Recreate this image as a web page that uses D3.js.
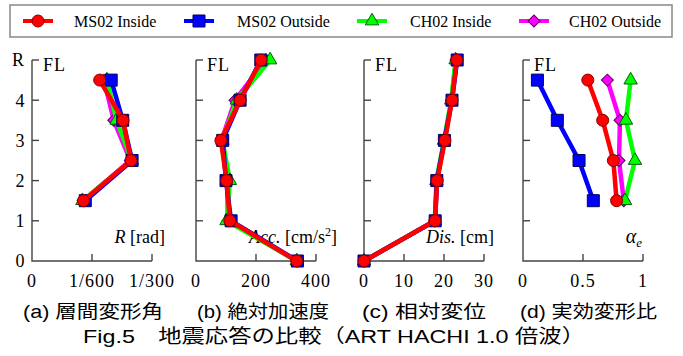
<!DOCTYPE html>
<html>
<head>
<meta charset="utf-8">
<script src="https://cdn.jsdelivr.net/npm/d3@7"></script>
<style>
  body { margin: 0; background: #fff; }
  text { font-family: "Liberation Serif", "Times New Roman", serif; }
  .cap { font-family: "Liberation Sans", "Noto Sans CJK JP", sans-serif; }
</style>
</head>
<body>
<svg id="chart" width="683" height="356"></svg>
<script>
// floor levels
const storyFloors = [1.5, 2.5, 3.5, 4.5];
const floorLevels = [0, 1, 2, 3, 4, 5];
const seriesNames = ["MS02 Inside", "MS02 Outside", "CH02 Inside", "CH02 Outside"];

// (a) inter-story drift angle [rad]
const driftMS02In  = [0.00143, 0.00275, 0.00253, 0.00188];
const driftMS02Out = [0.00148, 0.00278, 0.00252, 0.00220];
const driftCH02In  = [0.00140, 0.00277, 0.00235, 0.00208];
const driftCH02Out = [0.00142, 0.00273, 0.00227, 0.00200];

// (b) absolute acceleration [cm/s2]
const accMS02In  = [336, 113, 102, 83, 147, 217];
const accMS02Out = [338, 117, 100, 89, 147, 216];
const accCH02In  = [336, 102, 113, 88, 136, 247];
const accCH02Out = [337, 107, 103, 85, 130, 233];

// (c) relative displacement [cm]
const disMS02In  = [0, 17.75, 18.3, 20.25, 22.0, 23.2];
const disMS02Out = [0, 17.8, 18.2, 20.1, 22.0, 23.3];
const disCH02In  = [0, 17.7, 18.1, 20.0, 21.8, 22.9];
const disCH02Out = [0, 17.7, 18.2, 20.1, 21.9, 23.0];

// (d) effective deformation ratio
const alphaMS02In  = [0.78, 0.753, 0.664, 0.54];
const alphaMS02Out = [0.586, 0.467, 0.286, 0.12];
const alphaCH02In  = [0.85, 0.933, 0.858, 0.897];
const alphaCH02Out = [0.84, 0.80, 0.808, 0.703];

const tickLabelsA = ["0", "1/600", "1/300"];

const svg = d3.select("#chart");

const styles = [
  { color: "#ff0000", edge: "#800000", shape: d3.symbolCircle, size: 113, rot: 0 },
  { color: "#0000ff", edge: "#000060", shape: d3.symbolSquare, size: 144, rot: 0 },
  { color: "#00ff00", edge: "#006000", shape: d3.symbolTriangle, size: 78, rot: 0 },
  { color: "#ff00ff", edge: "#600060", shape: d3.symbolSquare, size: 72, rot: 45 }
];

const y = d3.scaleLinear().domain([0, 5]).range([261, 60]);

const panels = [
  { x0: 32,  domain: [0, 1 / 300], ticks: [0, 1 / 600, 1 / 300], fmt: (d, i) => tickLabelsA[i],
    levels: storyFloors, data: [driftMS02In, driftMS02Out, driftCH02In, driftCH02Out],
    label: [["R", true], [" [rad]", false]], labelEnd: 165 },
  { x0: 196, domain: [0, 400], ticks: [0, 200, 400], fmt: d => d,
    levels: floorLevels, data: [accMS02In, accMS02Out, accCH02In, accCH02Out],
    label: [["Acc.", true], [" [cm/s", false], ["2", false, true], ["]", false]], labelEnd: 337 },
  { x0: 364, domain: [0, 30], ticks: [0, 10, 20, 30], fmt: d => d,
    levels: floorLevels, data: [disMS02In, disMS02Out, disCH02In, disCH02Out],
    label: [["Dis.", true], [" [cm]", false]], labelEnd: 494 },
  { x0: 523, domain: [0, 1], ticks: [0, 0.5, 1], fmt: d => d,
    levels: storyFloors, data: [alphaMS02In, alphaMS02Out, alphaCH02In, alphaCH02Out],
    label: null, labelEnd: 642 }
];

const axisColor = "#444";

panels.forEach((p, pi) => {
  const x = d3.scaleLinear().domain(p.domain).range([p.x0, p.x0 + 120]);
  const g = svg.append("g");

  // axes lines
  g.append("path")
    .attr("d", `M${p.x0},${y(5)}V${y(0)}H${p.x0 + 120}`)
    .attr("fill", "none").attr("stroke", axisColor).attr("stroke-width", 1.4);

  // y ticks (inward)
  g.selectAll(".yt").data([1, 2, 3, 4, 5]).enter().append("line")
    .attr("x1", p.x0).attr("x2", p.x0 + 7)
    .attr("y1", d => y(d)).attr("y2", d => y(d))
    .attr("stroke", axisColor).attr("stroke-width", 1.4);

  // x ticks (inward)
  g.selectAll(".xt").data(p.ticks.slice(1)).enter().append("line")
    .attr("x1", d => x(d)).attr("x2", d => x(d))
    .attr("y1", y(0)).attr("y2", y(0) - 7)
    .attr("stroke", axisColor).attr("stroke-width", 1.4);

  g.selectAll(".xl").data(p.ticks).enter().append("text")
    .attr("x", d => x(d)).attr("y", 287)
    .attr("text-anchor", "middle")
    .style("font-size", "18px").style("letter-spacing", "1px")
    .text((d, i) => p.fmt(d, i));

  g.append("text").attr("x", p.x0 + 11).attr("y", 71)
    .style("font-size", "18px").style("letter-spacing", "1px").text("FL");

  if (pi === 0) {
    g.selectAll(".yl").data([0, 1, 2, 3, 4]).enter().append("text")
      .attr("x", 20).attr("y", d => y(d)).attr("dy", "0.35em")
      .attr("text-anchor", "middle").style("font-size", "18px")
      .text(d => d);
    g.append("text").attr("x", 18).attr("y", y(5)).attr("dy", "0.35em")
      .attr("text-anchor", "middle").style("font-size", "18px").text("R");
  }

  // axis title
  if (p.label) {
    const t = g.append("text").attr("x", p.labelEnd).attr("y", 243)
      .attr("text-anchor", "end").style("font-size", "18px");
    p.label.forEach(([s, it, sup]) => {
      const ts = t.append("tspan").text(s).style("font-style", it ? "italic" : "normal");
      if (sup) ts.attr("dy", "-7").style("font-size", "12px");
      else if (s === "]" ) ts.attr("dy", "7");
    });
  } else {
    const t = g.append("text").attr("x", p.labelEnd).attr("y", 243)
      .attr("text-anchor", "end").style("font-size", "20px").style("font-style", "italic");
    t.append("tspan").text("α");
    t.append("tspan").text("e").attr("dy", 4).style("font-size", "13px");
  }

  // series (draw last legend entry first)
  const line = d3.line().x(d => x(d[0])).y(d => y(d[1]));
  for (let s = 3; s >= 0; s--) {
    const pts = p.data[s].map((v, i) => [v, p.levels[i]]);
    const st = styles[s];
    g.append("path").datum(pts).attr("d", line)
      .attr("fill", "none").attr("stroke", st.color).attr("stroke-width", 4.5)
      .attr("stroke-linejoin", "round");
    g.selectAll(".m" + s).data(pts).enter().append("path")
      .attr("d", d3.symbol().type(st.shape).size(st.size))
      .attr("transform", d => `translate(${x(d[0])},${y(d[1])}) rotate(${st.rot})`)
      .attr("fill", st.color).attr("stroke", st.edge).attr("stroke-width", 1);
  }
});

// legend
svg.append("rect").attr("x", 10).attr("y", 5).attr("width", 662).attr("height", 32)
  .attr("fill", "#fff").attr("stroke", "#888").attr("stroke-width", 1.5);
const legMarkX = [38, 199, 372, 534];
const legTextX = [74, 237, 410, 569];
seriesNames.forEach((name, i) => {
  const st = styles[i];
  svg.append("line").attr("x1", legMarkX[i] - 15).attr("x2", legMarkX[i] + 15)
    .attr("y1", 21).attr("y2", 21).attr("stroke", st.color).attr("stroke-width", 4);
  svg.append("path").attr("d", d3.symbol().type(st.shape).size(st.size))
    .attr("transform", `translate(${legMarkX[i]},21) rotate(${st.rot})`)
    .attr("fill", st.color).attr("stroke", st.edge).attr("stroke-width", 1);
  svg.append("text").attr("x", legTextX[i]).attr("y", 26.5)
    .style("font-size", "16px").text(name);
});

// captions
const captions = ["(a) 層間変形角", "(b) 絶対加速度", "(c) 相対変位", "(d) 実効変形比"];
const capX = [23, 197, 362, 520];
const capW = [140, 132, 124, 137];
captions.forEach((c, i) => {
  svg.append("text").attr("class", "cap").attr("x", capX[i]).attr("y", 318)
    .attr("textLength", capW[i]).attr("lengthAdjust", "spacingAndGlyphs")
    .style("font-size", "18px").text(c);
});
svg.append("text").attr("class", "cap").attr("x", 83).attr("y", 343)
  .attr("textLength", 502).attr("lengthAdjust", "spacingAndGlyphs")
  .style("font-size", "19px").text("Fig.5　地震応答の比較（ART HACHI 1.0 倍波）");
</script>
</body>
</html>
